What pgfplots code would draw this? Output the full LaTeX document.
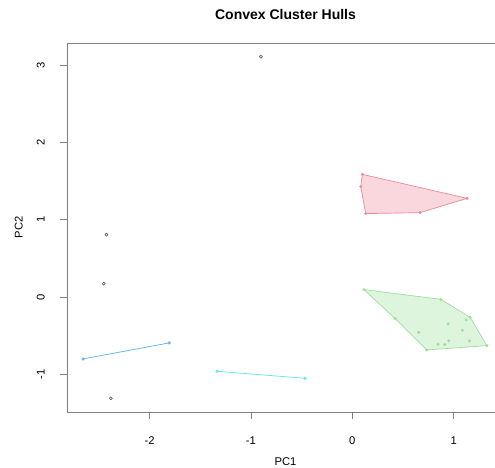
\documentclass[border=0pt]{standalone}
\usepackage{pgfplots}
\pgfplotsset{compat=1.18}
\usepackage{fontspec}
\setmainfont{Liberation Sans}
\definecolor{redfill}{HTML}{F9D7DC}
\definecolor{redline}{HTML}{EC8A9A}
\definecolor{greenfill}{HTML}{DDF5DC}
\definecolor{greenline}{HTML}{9EDE9C}
\definecolor{bluecol}{HTML}{6CB6EE}
\definecolor{cyancol}{HTML}{6EE6EE}
\definecolor{axgray}{HTML}{808080}
\begin{document}
\begin{tikzpicture}
\path[use as bounding box, clip] (0,0) rectangle (495pt,468pt);
\begin{axis}[
  at={(67pt,56pt)}, anchor=south west,
  width=436pt, height=369pt, scale only axis,
  xmin=-2.814, xmax=1.486, ymin=-1.489, ymax=3.286,
  xtick={-2,-1,0,1}, xticklabels={-2,-1,0,1},
  ytick={-1,0,1,2,3}, yticklabels={-1,0,1,2,3},
  xtick pos=left, ytick pos=left,
  tick align=outside, major tick length=7pt,
  axis line style={draw=axgray, line width=0.8pt},
  tick style={draw=axgray, line width=0.8pt},
  ticklabel style={font=\fontsize{11.2}{13}\selectfont},
  xticklabel style={anchor=base, inner sep=0pt, yshift=-26pt},
  yticklabel style={xshift=-15.3pt, rotate=90, anchor=base, inner sep=0pt},
  clip=false,
]
% red hull
\addplot[fill=redfill, draw=redline, line width=0.7pt] coordinates {
  (0.099,1.586) (1.132,1.276) (0.668,1.091) (0.132,1.078) (0.083,1.427)
} -- cycle;
\addplot[only marks, mark=*, mark size=1.3pt, color=redline] coordinates {
  (0.099,1.586) (1.132,1.276) (0.668,1.091) (0.132,1.078) (0.083,1.427)
};
% green hull
\addplot[fill=greenfill, draw=greenline, line width=0.7pt] coordinates {
  (0.1155,0.0944) (0.873,-0.031) (1.162,-0.264) (1.327,-0.630) (0.734,-0.686) (0.422,-0.281)
} -- cycle;
\addplot[only marks, mark=*, mark size=1.3pt, color=greenline] coordinates {
  (0.1155,0.0944) (0.873,-0.031) (1.162,-0.264) (1.327,-0.630) (0.734,-0.686)
  (0.422,-0.281) (0.655,-0.458) (0.945,-0.349) (1.122,-0.298) (1.086,-0.432)
  (1.155,-0.569) (0.952,-0.569) (0.912,-0.617) (0.846,-0.613)
};
% blue segment
\addplot[color=bluecol, line width=0.8pt, mark=*, mark size=1.2pt] coordinates {
  (-2.655,-0.802) (-1.806,-0.595)
};
% cyan segment
\addplot[color=cyancol, line width=0.8pt, mark=*, mark size=1.2pt] coordinates {
  (-1.333,-0.962) (-0.467,-1.053)
};
% singletons
\addplot[only marks, mark=o, mark size=1.5pt, color=black!65, mark options={line width=0.6pt}] coordinates {
  (-0.901,3.109) (-2.425,0.806) (-2.451,0.172) (-2.382,-1.312)
};
\end{axis}
\node[anchor=base, font=\bfseries\fontsize{14}{16}\selectfont] at (285.5pt,448.5pt) {Convex Cluster Hulls};
\node[anchor=base, font=\fontsize{11.2}{13}\selectfont] at (285.5pt,2.5pt) {PC1};
\node[anchor=base, rotate=90, font=\fontsize{11.2}{13}\selectfont] at (22.7pt,240.5pt) {PC2};
\end{tikzpicture}
\end{document}
